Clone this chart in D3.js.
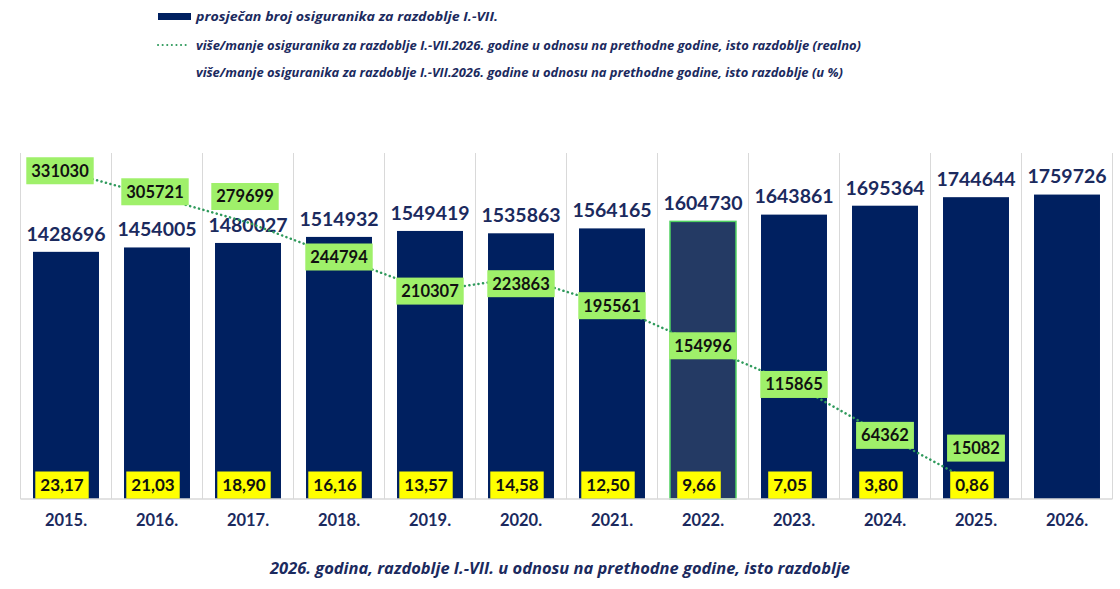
<!DOCTYPE html>
<html>
<head>
<meta charset="utf-8">
<script src="https://cdn.jsdelivr.net/npm/d3@7"></script>
<style>
  body { margin: 0; background: #fff; }
  svg { display: block; font-family: Lato, "Open Sans", sans-serif; }
</style>
</head>
<body>
<div id="chart"></div>
<script>
// data
const years = ["2015.", "2016.", "2017.", "2018.", "2019.", "2020.", "2021.", "2022.", "2023.", "2024.", "2025.", "2026."];
const insured = [1428696, 1454005, 1480027, 1514932, 1549419, 1535863, 1564165, 1604730, 1643861, 1695364, 1744644, 1759726];
const diffReal = [331030, 305721, 279699, 244794, 210307, 223863, 195561, 154996, 115865, 64362, 15082];
const diffPct = [23.17, 21.03, 18.90, 16.16, 13.57, 14.58, 12.50, 9.66, 7.05, 3.80, 0.86];
const highlightYear = "2022.";

const legendLabels = [
    "prosječan broj osiguranika za razdoblje I.-VII.",
    "više/manje osiguranika za razdoblje I.-VII.2026. godine u odnosu na prethodne godine, isto razdoblje (realno)",
    "više/manje osiguranika za razdoblje I.-VII.2026. godine u odnosu na prethodne godine, isto razdoblje (u %)"
];
const caption = "2026. godina, razdoblje I.-VII. u odnosu na prethodne godine, isto razdoblje";

const width = 1120, height = 589;
const plot = { left: 20.5, right: 1112.5, top: 153, bottom: 499 };

const navy = "#002060";
const textNavy = "#1b2a5e";
const dotGreen = "#2f9a5c";
const italicFont = "'Open Sans', sans-serif";

const svg = d3.select("#chart").append("svg")
    .attr("width", width)
    .attr("height", height);

// scales
const x = d3.scaleBand()
    .domain(years)
    .range([plot.left, plot.right])
    .paddingInner(0.275)
    .paddingOuter(0.1375);

const y = d3.scaleLinear().domain([0, 2000000]).range([plot.bottom, plot.top]);
const y2 = d3.scaleLinear().domain([0, 350000]).range([plot.bottom, plot.top]);

const step = x.step();
const cx = d => x(d) + x.bandwidth() / 2;

// vertical category gridlines
svg.append("g")
    .selectAll("line")
    .data(d3.range(years.length + 1))
    .join("line")
    .attr("x1", i => plot.left + i * step)
    .attr("x2", i => plot.left + i * step)
    .attr("y1", plot.top)
    .attr("y2", plot.bottom)
    .attr("stroke", "#d9d9d9")
    .attr("stroke-width", 1);

// bars
svg.append("g")
    .selectAll("rect")
    .data(years)
    .join("rect")
    .attr("x", d => x(d))
    .attr("y", (d, i) => y(insured[i]))
    .attr("width", x.bandwidth())
    .attr("height", (d, i) => y(0) - y(insured[i]))
    .attr("fill", d => d === highlightYear ? "#243a64" : navy)
    .attr("stroke", d => d === highlightYear ? "#4fd160" : "none")
    .attr("stroke-width", 1.5);

// x axis (baseline + labels)
const xAxis = svg.append("g")
    .attr("transform", `translate(0,${plot.bottom})`)
    .call(d3.axisBottom(x).tickSize(0).tickPadding(15));
xAxis.select(".domain")
    .attr("d", `M${plot.left},0H${plot.right}`)
    .attr("stroke", "#d9d9d9")
    .attr("stroke-width", 1.5);
xAxis.selectAll("text")
    .attr("font-family", "Lato, sans-serif")
    .attr("font-size", 16.5)
    .attr("font-weight", "bold")
    .attr("fill", textNavy);

// bar value labels
svg.append("g")
    .selectAll("text")
    .data(years)
    .join("text")
    .attr("x", d => cx(d))
    .attr("y", (d, i) => y(insured[i]) - 18)
    .attr("dy", "0.35em")
    .attr("text-anchor", "middle")
    .attr("font-size", 19.5)
    .attr("font-weight", "bold")
    .attr("fill", textNavy)
    .text((d, i) => insured[i]);

// dotted line (realno)
const linePts = diffReal.map((v, i) => [cx(years[i]), y2(v)]);
svg.append("path")
    .datum(linePts)
    .attr("d", d3.line())
    .attr("fill", "none")
    .attr("stroke", dotGreen)
    .attr("stroke-width", 2.5)
    .attr("stroke-linecap", "round")
    .attr("stroke-dasharray", "0.1 4.5");

// labels of the dotted line, a few are nudged as in the original
const nudge = { 0: [-6, -1], 1: [-2, -5], 2: [-3, -26], 5: [0, 6], 10: [0, -36] };

function boxLabel(g, tx, ty, txt, fill, size) {
    const t = g.append("text")
        .attr("x", tx)
        .attr("y", ty)
        .attr("dy", "0.36em")
        .attr("text-anchor", "middle")
        .attr("font-size", size)
        .attr("font-weight", "bold")
        .attr("fill", "#111")
        .text(txt);
    const w = t.node().getComputedTextLength() + 10;
    g.insert("rect", "text")
        .attr("x", tx - w / 2)
        .attr("y", ty - 13.5)
        .attr("width", w)
        .attr("height", 27)
        .attr("fill", fill);
}

diffReal.forEach((v, i) => {
    const [dx, dy] = nudge[i] || [0, 0];
    boxLabel(svg.append("g"), linePts[i][0] + dx, linePts[i][1] + dy, v, "#9ff06a", 16.5);
});

// percent labels at the foot of bars
const fmtPct = v => v.toFixed(2).replace(".", ",");
diffPct.forEach((v, i) => {
    boxLabel(svg.append("g"), cx(years[i]) - 4, plot.bottom - 14, fmtPct(v), "#ffff00", 17);
});

// legend
const legend = svg.append("g");
const legendY = [16, 45, 72];
const legendLen = [302, 665, 647];
legend.append("rect")
    .attr("x", 158).attr("y", legendY[0] - 3)
    .attr("width", 33).attr("height", 7)
    .attr("fill", navy);
legend.append("line")
    .attr("x1", 158).attr("x2", 190)
    .attr("y1", legendY[1]).attr("y2", legendY[1])
    .attr("stroke", dotGreen)
    .attr("stroke-width", 2)
    .attr("stroke-linecap", "round")
    .attr("stroke-dasharray", "0.1 4.5");
legend.selectAll("text")
    .data(legendLabels)
    .join("text")
    .attr("x", 196)
    .attr("y", (d, i) => legendY[i])
    .attr("dy", "0.35em")
    .attr("font-family", italicFont)
    .attr("font-size", 13)
    .attr("font-style", "italic")
    .attr("font-weight", "bold")
    .attr("fill", textNavy)
    .attr("textLength", (d, i) => legendLen[i])
    .attr("lengthAdjust", "spacingAndGlyphs")
    .text(d => d);

// caption
svg.append("text")
    .attr("x", 560)
    .attr("y", 568)
    .attr("dy", "0.35em")
    .attr("text-anchor", "middle")
    .attr("font-family", italicFont)
    .attr("font-size", 16)
    .attr("font-style", "italic")
    .attr("font-weight", "bold")
    .attr("fill", textNavy)
    .attr("textLength", 580)
    .attr("lengthAdjust", "spacingAndGlyphs")
    .text(caption);
</script>
</body>
</html>
